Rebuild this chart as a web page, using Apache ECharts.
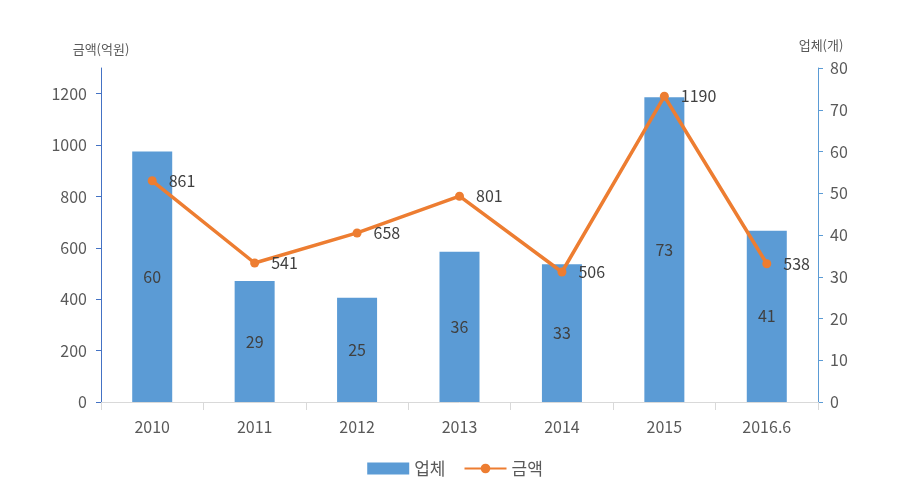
<!DOCTYPE html>
<html><head><meta charset="utf-8">
<script src="https://cdn.jsdelivr.net/npm/echarts@6/dist/echarts.min.js"></script>
<style>html,body{margin:0;padding:0;background:#fff}#c{width:910px;height:489px}</style>
</head><body><div id="c"></div>
<script>
const categories = ['2010','2011','2012','2013','2014','2015','2016.6'];
const companies = [60, 29, 25, 36, 33, 73, 41];      // 업체 (개)
const amounts = [861, 541, 658, 801, 506, 1190, 538]; // 금액 (억원)
const leftTicks = [0, 200, 400, 600, 800, 1000, 1200];
const rightTicks = [0, 10, 20, 30, 40, 50, 60, 70, 80];

const FONT = '"Noto Sans CJK KR", "Noto Sans", sans-serif';
const chart = echarts.init(document.getElementById('c'));
chart.setOption({
  animation: false,
  textStyle: { fontFamily: FONT },
  grid: { left: 101, right: 92, top: 68, bottom: 87 },
  legend: {
    bottom: 7, left: 'center', itemWidth: 42, itemHeight: 12, itemGap: 18,
    textStyle: { fontSize: 17, color: '#595959', fontFamily: FONT },
    data: [{ name: '업체', icon: 'rect' }, { name: '금액' }]
  },
  xAxis: {
    type: 'category', data: categories,
    axisLine: { lineStyle: { color: '#d9d9d9' } },
    axisTick: { show: true, length: 8, lineStyle: { color: '#d9d9d9' } },
    axisLabel: { fontSize: 16, color: '#595959', margin: 17, fontFamily: FONT }
  },
  yAxis: [
    {
      type: 'value', min: 0, max: 1300, interval: 200, position: 'left',
      name: '금액(억원)', nameLocation: 'end', nameGap: 12,
      nameTextStyle: { fontSize: 13, color: '#595959', fontFamily: FONT, align: 'center' },
      splitLine: { show: false },
      axisLine: { show: true, lineStyle: { color: '#4472c4' } },
      axisTick: { show: true, length: 5, customValues: leftTicks, lineStyle: { color: '#4472c4' } },
      axisLabel: { fontSize: 16, color: '#595959', margin: 14, customValues: leftTicks, fontFamily: FONT,
                   formatter: v => String(v) }
    },
    {
      type: 'value', min: 0, max: 80, interval: 10, position: 'right',
      name: '업체(개)', nameLocation: 'end', nameGap: 16,
      nameTextStyle: { fontSize: 13, color: '#595959', fontFamily: FONT, align: 'center', padding: [0, 0, 0, 6] },
      splitLine: { show: false },
      axisLine: { show: true, lineStyle: { color: '#5b9bd5' } },
      axisTick: { show: true, length: 5, customValues: rightTicks, lineStyle: { color: '#5b9bd5' } },
      axisLabel: { fontSize: 16, color: '#595959', margin: 12, customValues: rightTicks, fontFamily: FONT }
    }
  ],
  series: [
    {
      name: '업체', type: 'bar', yAxisIndex: 1, data: companies, barWidth: 40,
      itemStyle: { color: '#5b9bd5' },
      label: { show: true, position: 'inside', fontSize: 16, color: '#404040', fontFamily: FONT }
    },
    {
      name: '금액', type: 'line', yAxisIndex: 0, data: amounts,
      lineStyle: { color: '#ed7d31', width: 3.5 },
      itemStyle: { color: '#ed7d31' },
      symbol: 'circle', symbolSize: 9,
      label: { show: true, position: 'right', distance: 12, fontSize: 16, color: '#404040', fontFamily: FONT }
    }
  ]
});
</script></body></html>
